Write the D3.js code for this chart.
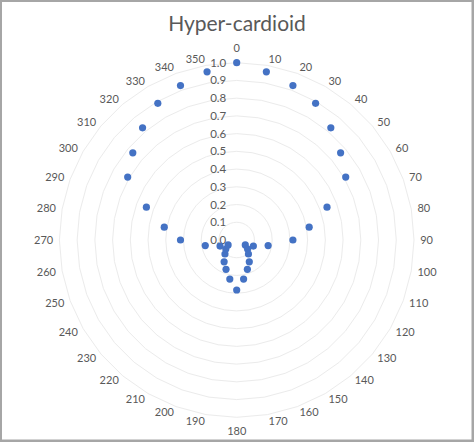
<!DOCTYPE html>
<html>
<head>
<meta charset="utf-8">
<script src="https://cdn.jsdelivr.net/npm/d3@7"></script>
<style>
  html, body { margin: 0; padding: 0; background: #a6a6a6; }
  svg { display: block; }
  text { font-family: Lato, "Open Sans", sans-serif; fill: #595959; }
</style>
</head>
<body>
<div id="chart"></div>
<script>
// angles in degrees, clockwise from the top
var angles = [0, 10, 20, 30, 40, 50, 60, 70, 80, 90, 100, 110, 120, 130, 140, 150, 160, 170,
              180, 190, 200, 210, 220, 230, 240, 250, 260, 270, 280, 290, 300, 310, 320, 330, 340, 350];
// response
var response = [1.0, 0.963, 0.927, 0.89, 0.826, 0.765, 0.71, 0.542, 0.415, 0.317, 0.18, 0.10, 0.056, 0.08, 0.103, 0.142, 0.176, 0.224,
                 0.282, 0.224, 0.176, 0.142, 0.103, 0.08, 0.056, 0.10, 0.18, 0.317, 0.415, 0.542, 0.71, 0.765, 0.826, 0.89, 0.927, 0.963];
var radialTicks = [0.0, 0.1, 0.2, 0.3, 0.4, 0.5, 0.6, 0.7, 0.8, 0.9, 1.0];
var title = "Hyper-cardioid";

var W = 474, H = 442;
var cx = 236.7, cy = 240, R = 177.3;
var labelR = 183.5;

var svg = d3.select("#chart").append("svg")
    .attr("width", W)
    .attr("height", H);

// white chart area inside the grey frame
svg.append("rect")
    .attr("x", 2).attr("y", 2)
    .attr("width", W - 4.5).attr("height", H - 4.5)
    .attr("fill", "#ffffff");

svg.append("text")
    .attr("x", W / 2)
    .attr("y", 31)
    .attr("text-anchor", "middle")
    .attr("font-size", "21px")
    .text(title);

var r = d3.scaleLinear().domain([0, 1]).range([0, R]);
var a = d3.scaleLinear().domain([0, 360]).range([0, 2 * Math.PI]);

var g = svg.append("g").attr("transform", "translate(" + cx + "," + cy + ")");

// gridlines: 36-sided polygons like the radar chart draws them
var ring = d3.lineRadial()
    .angle(function (d) { return a(d); })
    .curve(d3.curveLinearClosed);
radialTicks.forEach(function (t) {
    if (t === 0) return;
    g.append("path")
        .attr("d", ring.radius(r(t))(angles))
        .attr("fill", "none")
        .attr("stroke", "#ebebeb")
        .attr("stroke-width", 1);
});

// angle labels: the near edge of each label sits on a circle just outside the grid
g.selectAll(".angle-label")
    .data(angles)
    .enter().append("text")
    .attr("class", "angle-label")
    .attr("x", function (d) { return Math.sin(a(d)) * labelR; })
    .attr("y", function (d) {
        var y = -Math.cos(a(d)) * labelR;
        if (d === 0) y -= 8;
        if (d === 180) y += 8;
        return y;
    })
    .attr("dy", "0.35em")
    .attr("text-anchor", function (d) {
        if (d === 0 || d === 180) return "middle";
        return d < 180 ? "start" : "end";
    })
    .attr("font-size", "11px")
    .text(function (d) { return d; });

// radial tick labels
g.selectAll(".tick-label")
    .data(radialTicks)
    .enter().append("text")
    .attr("class", "tick-label")
    .attr("x", -10.5)
    .attr("y", function (d) { return -r(d); })
    .attr("dy", "0.35em")
    .attr("text-anchor", "end")
    .attr("font-size", "11.5px")
    .text(function (d) { return d.toFixed(1); });

// markers
g.selectAll(".pt")
    .data(angles)
    .enter().append("circle")
    .attr("class", "pt")
    .attr("cx", function (d, i) { return Math.sin(a(d)) * r(response[i]); })
    .attr("cy", function (d, i) { return -Math.cos(a(d)) * r(response[i]); })
    .attr("r", 3.6)
    .attr("fill", "#4472c4");
</script>
</body>
</html>
